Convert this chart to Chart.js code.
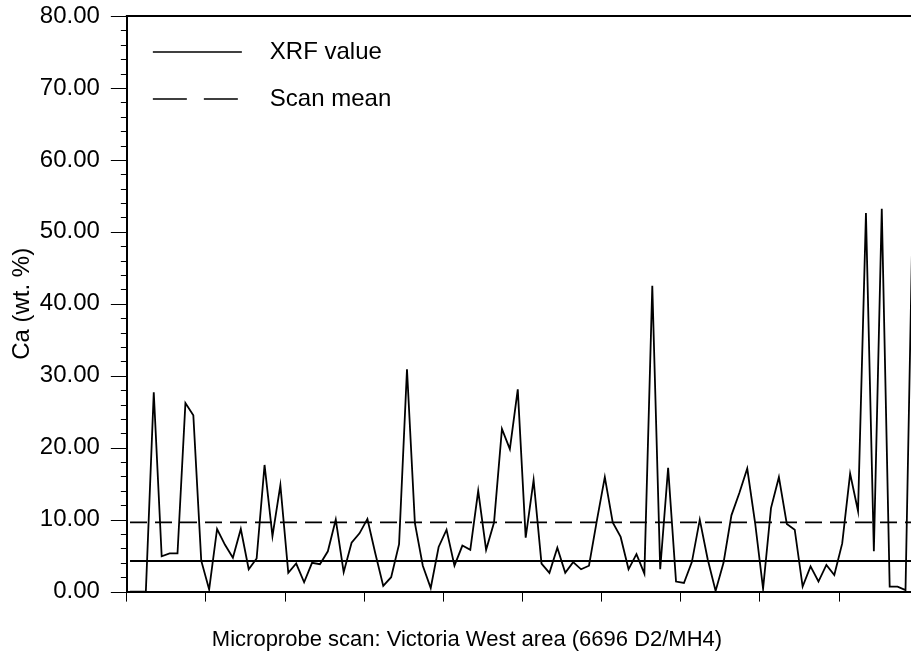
<!DOCTYPE html>
<html>
<head>
<meta charset="utf-8">
<script src="https://cdn.jsdelivr.net/npm/chart.js@4/dist/chart.umd.min.js"></script>
<style>
  html, body { margin: 0; padding: 0; background: #fff; overflow: hidden; }
  /* the original figure is cropped on the right, so the canvas runs past the window */
  #wrap { width: 934px; height: 656px; }
</style>
</head>
<body>
<div id="wrap"><canvas id="chart"></canvas></div>
<script>
// Ca readings along the microprobe traverse, one per scan step
var caValues = [
  0, 0, 0, 27.7, 4.9, 5.3, 5.3, 26.2, 24.5, 4.3,
  0.3, 8.7, 6.5, 4.7, 8.7, 3.1, 4.6, 17.6, 7.7, 14.8,
  2.6, 3.9, 1.3, 4.0, 3.8, 5.6, 10.0, 2.7, 6.8, 8.1,
  10.1, 5.3, 0.8, 2.0, 6.6, 30.9, 9.5, 3.6, 0.5, 6.2,
  8.6, 3.6, 6.4, 5.8, 14.0, 5.8, 9.6, 22.6, 19.8, 28.1,
  7.5, 15.5, 3.9, 2.6, 6.1, 2.6, 4.1, 3.1, 3.6, 9.9,
  15.9, 9.6, 7.6, 3.1, 5.2, 2.5, 42.5, 3.1, 17.2, 1.4,
  1.2, 4.1, 10.0, 4.5, 0.1, 4.0, 10.6, 13.7, 17.1, 9.5,
  0.4, 11.6, 15.9, 9.4, 8.6, 0.7, 3.5, 1.4, 3.7, 2.3,
  6.7, 16.4, 11.2, 52.6, 5.6, 53.2, 0.7, 0.7, 0.2, 58
];
var scanStart = 0.4;
var scanStep = 1;
var xrfValue = 4.27;
var scanMean = 9.62;

var yMin = 0, yMax = 80, yStep = 10, yMinorStep = 2;
var xMin = 0, xMax = 102, xStep = 10;

var seriesLabels = ["XRF value", "Scan mean"];
var yTitle = "Ca (wt. %)";
var xTitle = "Microprobe scan: Victoria West area (6696 D2/MH4)";

var FONT = "'Liberation Sans', Arial, sans-serif";

var scanPoints = [];
for (var i = 0; i < caValues.length; i++) {
  scanPoints.push({ x: scanStart + i * scanStep, y: caValues[i] });
}
var firstX = scanPoints[0].x;
var lastX = scanPoints[scanPoints.length - 1].x;

// left axis tick marks: long at every label, short in between
var yTickMarks = {
  id: "yTickMarks",
  afterDraw: function(chart) {
    var s = chart.scales.y, ctx = chart.ctx;
    var x0 = chart.chartArea.left;
    ctx.save();
    ctx.strokeStyle = "#000";
    ctx.lineWidth = 1;
    for (var v = yMin; v <= yMax; v += yMinorStep) {
      var len = v % yStep === 0 ? 16 : 6;
      var y = Math.round(s.getPixelForValue(v)) + 0.5;
      ctx.beginPath();
      ctx.moveTo(x0 - len, y);
      ctx.lineTo(x0, y);
      ctx.stroke();
    }
    ctx.restore();
  }
};

// top edge of the plot frame
var topFrame = {
  id: "topFrame",
  afterDraw: function(chart) {
    var a = chart.chartArea, ctx = chart.ctx;
    ctx.save();
    ctx.strokeStyle = "#000";
    ctx.lineWidth = 2;
    ctx.beginPath();
    ctx.moveTo(a.left - 1, a.top);
    ctx.lineTo(a.right, a.top);
    ctx.stroke();
    ctx.restore();
  }
};

// legend stacked inside the plot, top left
var boxLegend = {
  id: "boxLegend",
  afterDatasetsDraw: function(chart) {
    var a = chart.chartArea, ctx = chart.ctx;
    var items = chart.data.datasets.filter(function(d) { return d.inLegend; });
    ctx.save();
    items.forEach(function(ds, i) {
      var y = a.top + 36 + i * 47;
      ctx.beginPath();
      ctx.setLineDash(ds.legendDash || []);
      ctx.lineWidth = 1.5;
      ctx.strokeStyle = ds.borderColor;
      ctx.moveTo(a.left + 26, y);
      ctx.lineTo(a.left + 115, y);
      ctx.stroke();
      ctx.setLineDash([]);
      ctx.fillStyle = "#000";
      ctx.font = "24px " + FONT;
      ctx.textBaseline = "middle";
      ctx.fillText(ds.label, a.left + 143, y);
    });
    ctx.restore();
  }
};

new Chart(document.getElementById("chart"), {
  type: "line",
  data: {
    datasets: [
      {
        label: "Ca scan",
        data: scanPoints,
        borderColor: "#000",
        borderWidth: 1.8,
        pointRadius: 0,
        tension: 0,
        fill: false
      },
      {
        label: seriesLabels[0],
        data: [{ x: firstX, y: xrfValue }, { x: lastX, y: xrfValue }],
        borderColor: "#000",
        borderWidth: 2,
        pointRadius: 0,
        fill: false,
        inLegend: true
      },
      {
        label: seriesLabels[1],
        data: [{ x: firstX, y: scanMean }, { x: lastX, y: scanMean }],
        borderColor: "#000",
        borderWidth: 1.6,
        borderDash: [17, 8],
        legendDash: [34, 17],
        pointRadius: 0,
        fill: false,
        inLegend: true
      }
    ]
  },
  options: {
    responsive: true,
    maintainAspectRatio: false,
    animation: false,
    layout: { padding: { top: 16, left: 0, right: 0, bottom: 0 } },
    plugins: {
      legend: { display: false },
      tooltip: { enabled: false },
      title: {
        display: true,
        position: "bottom",
        text: xTitle,
        color: "#000",
        font: { family: FONT, size: 22, weight: "normal" },
        padding: { top: 25, bottom: 3 }
      }
    },
    scales: {
      x: {
        type: "linear",
        min: xMin,
        max: xMax,
        ticks: { display: false, stepSize: xStep, includeBounds: false },
        grid: {
          display: true,
          drawOnChartArea: false,
          drawTicks: true,
          tickLength: 10,
          tickColor: "#000",
          tickWidth: 1
        },
        border: { display: true, color: "#000", width: 2 }
      },
      y: {
        min: yMin,
        max: yMax,
        ticks: {
          stepSize: yStep,
          color: "#000",
          padding: 0,
          font: { family: FONT, size: 24 },
          callback: function(v) { return v.toFixed(2); }
        },
        // tick marks are drawn by yTickMarks; this only reserves the room
        grid: {
          display: true,
          drawOnChartArea: false,
          drawTicks: true,
          tickLength: 27,
          tickColor: "rgba(0,0,0,0)"
        },
        border: { display: true, color: "#000", width: 2 },
        title: {
          display: true,
          text: yTitle,
          color: "#000",
          font: { family: FONT, size: 24 },
          padding: { top: 8, bottom: 3 }
        }
      }
    }
  },
  plugins: [yTickMarks, topFrame, boxLegend]
});
</script>
</body>
</html>
